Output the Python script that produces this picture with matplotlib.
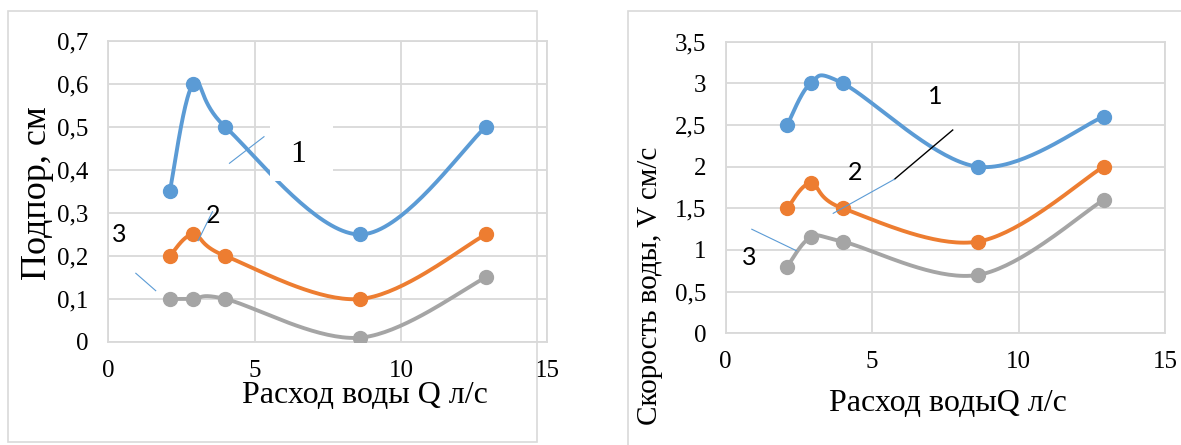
import matplotlib.pyplot as plt
import numpy as np
from matplotlib.patches import Rectangle

# water flow Q, l/s
q = [2.1, 2.9, 4.0, 8.6, 12.9]

# left chart: backwater, cm
head_1 = [0.35, 0.6, 0.5, 0.25, 0.5]
head_2 = [0.2, 0.25, 0.2, 0.1, 0.25]
head_3 = [0.1, 0.1, 0.1, 0.01, 0.15]

# right chart: water velocity, cm/s
vel_1 = [2.5, 3.0, 3.0, 2.0, 2.6]
vel_2 = [1.5, 1.8, 1.5, 1.1, 2.0]
vel_3 = [0.8, 1.15, 1.1, 0.7, 1.6]

x_ticks = [0, 5, 10, 15]
left_yticks = [0, 0.1, 0.2, 0.3, 0.4, 0.5, 0.6, 0.7]
right_yticks = [0, 0.5, 1, 1.5, 2, 2.5, 3, 3.5]

colors = ['#5B9BD5', '#ED7D31', '#A5A5A5']
grid_c = '#D9D9D9'
serif = 'Liberation Serif'
sans = 'Lato'


def smooth(x, y, n=40):
    # excel-like smoothed line (bezier through points)
    p = np.column_stack([x, y]).astype(float)
    ext = np.vstack([p[0], p, p[-1]])
    out = []
    t = np.linspace(0, 1, n)[:, None]
    for i in range(len(p) - 1):
        p0, p3 = p[i], p[i + 1]
        c1 = p0 + (ext[i + 2] - ext[i]) / 6
        c2 = p3 - (ext[i + 3] - ext[i + 1]) / 6
        seg = ((1 - t) ** 3) * p0 + 3 * ((1 - t) ** 2) * t * c1 + 3 * (1 - t) * t ** 2 * c2 + t ** 3 * p3
        out.append(seg)
    out = np.vstack(out)
    return out[:, 0], out[:, 1]


def fmt(v):
    s = ('%g' % v).replace('.', ',')
    return s


def setup(ax, yticks):
    ax.set_xlim(0, 15)
    ax.set_ylim(yticks[0], yticks[-1])
    ax.set_xticks(x_ticks)
    ax.set_yticks(yticks)
    ax.set_xticklabels([fmt(v) for v in x_ticks], fontfamily=serif, fontsize=18)
    ax.set_yticklabels([fmt(v) for v in yticks], fontfamily=serif, fontsize=18)
    ax.tick_params(axis='y', length=0, pad=14)
    ax.tick_params(axis='x', length=0, pad=13)
    ax.grid(True, color=grid_c, lw=1.3, zorder=0)
    ax.set_axisbelow(True)
    for s in ax.spines.values():
        s.set_color(grid_c)
        s.set_linewidth(1.3)


def draw(ax, series):
    for ys, c in zip(series, colors):
        sx, sy = smooth(q, ys)
        ax.plot(sx, sy, color=c, lw=2.8, zorder=3, solid_capstyle='round')
        ax.plot(q, ys, 'o', color=c, ms=10, zorder=4)


fig = plt.figure(figsize=(11.81, 4.45), dpi=100)

# chart frames
fig.patches.append(Rectangle((0.0068, 0.0067), 0.4479, 0.9685, transform=fig.transFigure,
                             fill=False, ec=grid_c, lw=1.2))
fig.patches.append(Rectangle((0.532, -0.1), 0.6, 1.076, transform=fig.transFigure,
                             fill=False, ec=grid_c, lw=1.2))

ax1 = fig.add_axes([0.0917, 0.2315, 0.3717, 0.6764])
setup(ax1, left_yticks)
draw(ax1, [head_1, head_2, head_3])
ax1.add_patch(Rectangle((5.52, 0.374), 2.15, 0.142, fc='white', ec='none', zorder=5))
ax1.text(6.5, 0.435, '1', fontfamily=serif, fontsize=23, ha='center', va='center', zorder=6)
ax1.plot([4.14, 5.32], [0.4156, 0.4774], color=colors[0], lw=0.8, zorder=6)
ax1.text(3.59, 0.293, '2', fontfamily=sans, fontsize=18, ha='center', va='center', zorder=6)
ax1.plot([3.07, 3.56], [0.2356, 0.303], color=colors[0], lw=0.8, zorder=6)
ax1.text(0.39, 0.2505, '3', fontfamily=sans, fontsize=18, ha='center', va='center', zorder=6)
ax1.plot([0.94, 1.62], [0.1598, 0.1193], color=colors[0], lw=0.8, zorder=6, clip_on=False)

fig.text(365 / 1181, 1 - 403 / 445, 'Расход воды Q л/с', fontfamily=serif, fontsize=23,
         ha='center', va='baseline')
fig.text(37 / 1181, 1 - 193 / 445, 'Подпор, см', fontfamily=serif, fontsize=26,
         ha='center', va='center', rotation=90)

ax2 = fig.add_axes([0.6145, 0.2510, 0.3720, 0.6553])
setup(ax2, right_yticks)
draw(ax2, [vel_1, vel_2, vel_3])
ax2.text(7.15, 2.84, '1', fontfamily=sans, fontsize=18, ha='center', va='center', zorder=6)
ax2.plot([5.76, 7.75], [1.849, 2.44], color='black', lw=1.0, zorder=6)
ax2.text(4.41, 1.93, '2', fontfamily=sans, fontsize=18, ha='center', va='center', zorder=6)
ax2.plot([3.67, 5.76], [1.44, 1.849], color=colors[0], lw=0.8, zorder=6)
ax2.text(0.81, 0.91, '3', fontfamily=sans, fontsize=18, ha='center', va='center', zorder=6)
ax2.plot([0.89, 2.41], [1.249, 0.992], color=colors[0], lw=0.8, zorder=6)

fig.text(948 / 1181, 1 - 411 / 445, 'Расход водыQ л/с', fontfamily=serif, fontsize=23,
         ha='center', va='baseline')
fig.text(650 / 1181, 1 - 286 / 445, 'Скорость воды, V см/с', fontfamily=serif, fontsize=21,
         ha='center', va='center', rotation=90)

fig.savefig('out.png', dpi=100)
